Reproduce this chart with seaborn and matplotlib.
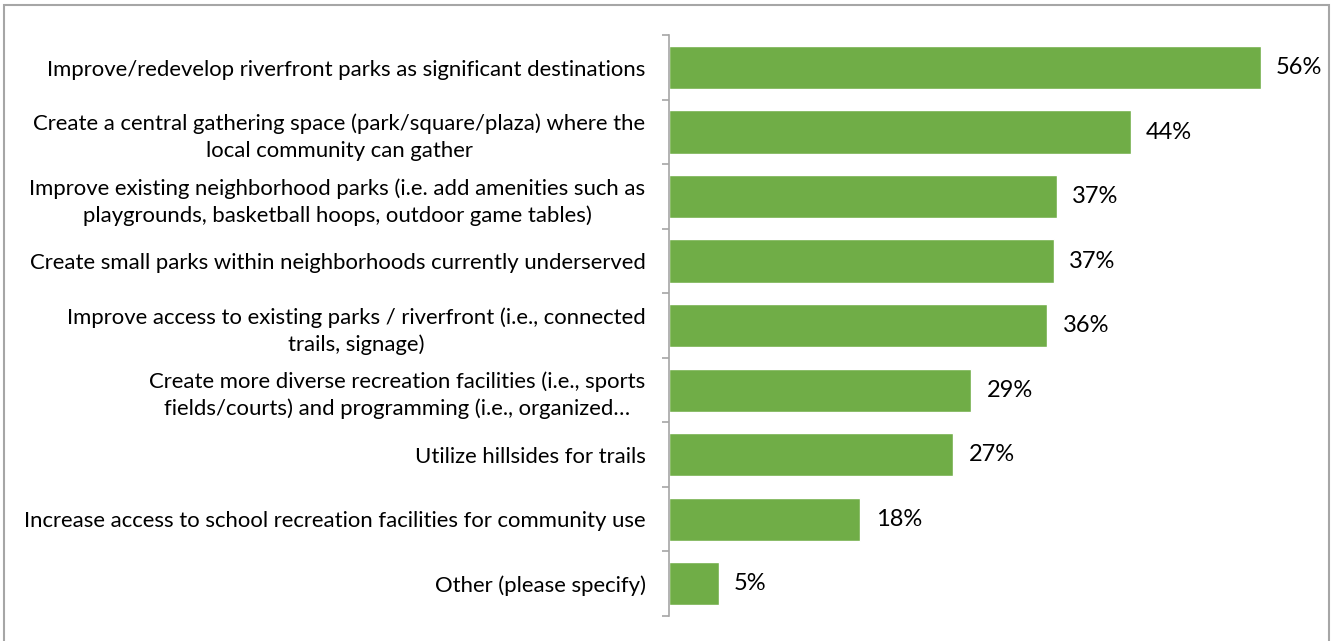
import matplotlib
matplotlib.use("Agg")
import matplotlib.pyplot as plt
from matplotlib.patches import Rectangle
import seaborn as sns
import pandas as pd

categories = [
    "Improve/redevelop riverfront parks as significant destinations",
    "Create a central gathering space (park/square/plaza) where the\nlocal community can gather",
    "Improve existing neighborhood parks (i.e. add amenities such as\nplaygrounds, basketball hoops, outdoor game tables)",
    "Create small parks within neighborhoods currently underserved",
    "Improve access to existing parks / riverfront (i.e., connected\ntrails, signage)",
    "Create more diverse recreation facilities (i.e., sports\nfields/courts) and programming (i.e., organized\u2026",
    "Utilize hillsides for trails",
    "Increase access to school recreation facilities for community use",
    "Other (please specify)",
]
values = [56.0, 43.7, 36.7, 36.4, 35.8, 28.6, 26.9, 18.1, 4.7]
value_labels = ["56%", "44%", "37%", "37%", "36%", "29%", "27%", "18%", "5%"]

sns.set_style("white")
plt.rcParams["font.family"] = ["Lato", "DejaVu Sans"]

df = pd.DataFrame({"item": categories, "pct": values})

fig = plt.figure(figsize=(13.33, 6.41), dpi=100)
ax = fig.add_axes([0.502, 0.039, 0.4755, 0.906])
sns.barplot(data=df, y="item", x="pct", color="#70AD47", saturation=1,
            width=0.67, ax=ax, orient="h")

ax.set_xlim(0, 60)
ax.set_ylim(len(categories) - 0.5, -0.5)
ax.set_xlabel("")
ax.set_ylabel("")
ax.set_xticks([])
for s in ["top", "right", "bottom"]:
    ax.spines[s].set_visible(False)
ax.spines["left"].set_color("#A6A6A6")
ax.spines["left"].set_linewidth(1.2)

# ticks between categories like Excel
ax.set_yticks([i - 0.5 for i in range(len(categories) + 1)], minor=False)
ax.set_yticklabels([])
ax.tick_params(axis="y", which="major", length=5, color="#A6A6A6", width=1.2, left=True)
ax.set_yticks(range(len(categories)), minor=True)
ax.set_yticklabels(categories, minor=True, fontsize=15.9, color="#000000",
                   multialignment="center", linespacing=1.4)
ax.tick_params(axis="y", which="minor", length=0, pad=17)

for i, (v, lab) in enumerate(zip(values, value_labels)):
    ax.annotate(lab, xy=(v, i), xytext=(11, 0), textcoords="offset points",
                va="center", ha="left", fontsize=17, color="#000000")

fig.patches.append(Rectangle((4 / 1333, -0.02), 1325 / 1333, 1.012,
                             transform=fig.transFigure, fill=False,
                             edgecolor="#A6A6A6", linewidth=1.5))

fig.savefig("out.png", dpi=100)
